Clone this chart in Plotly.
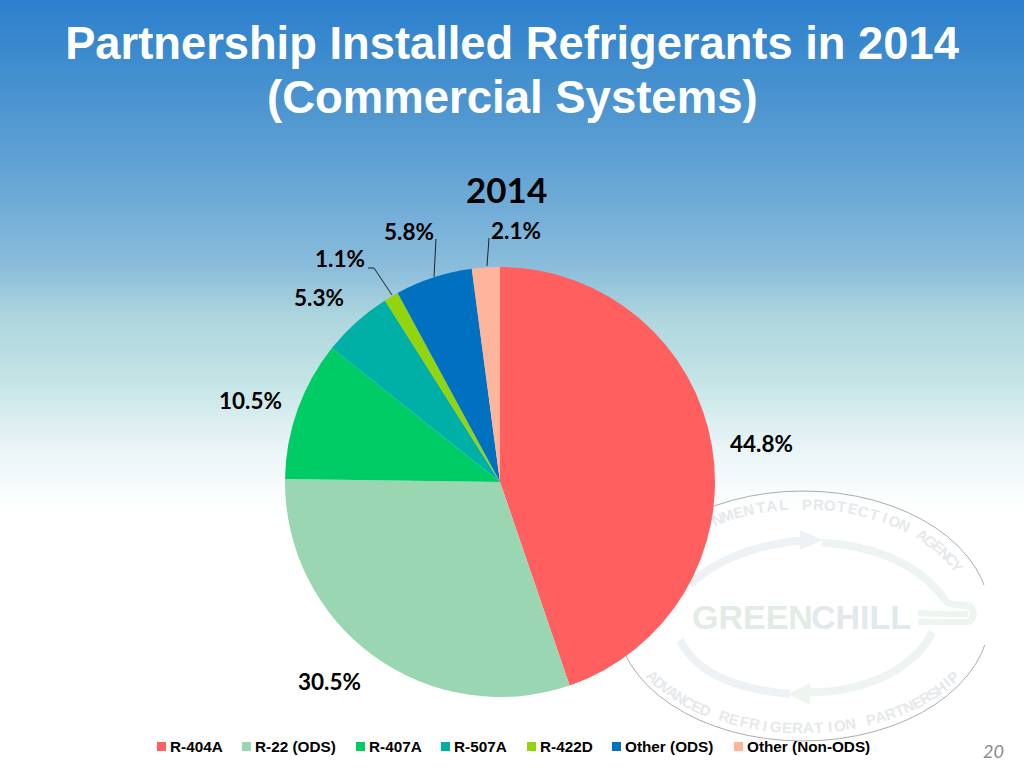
import math

import plotly.graph_objects as go

categories = ["R-404A", "R-22 (ODS)", "R-407A", "R-507A", "R-422D", "Other (ODS)", "Other (Non-ODS)"]
shares = [44.8, 30.5, 10.5, 5.3, 1.1, 5.8, 2.1]
colors = ["#FF5F5F", "#9BD6B2", "#00CC66", "#00AFA5", "#92D50F", "#0070C0", "#FFB59B"]

W, H = 1024, 768
LABEL_FONT = "Lato"
SANS = "Liberation Sans"

# where each share label sits, same order as categories
label_spots = [(761, 443), (329, 681), (250, 400), (319, 297), (340, 259), (409, 231), (516, 230)]
# left edge of each legend swatch
legend_spots = [157, 242, 356, 441, 527, 612, 734]

# background stops: pixel row, rgb
bg_stops = [
    (0, (44, 128, 205)),
    (100, (75, 148, 208)),
    (200, (110, 170, 215)),
    (270, (140, 190, 220)),
    (320, (175, 215, 222)),
    (380, (195, 228, 230)),
    (440, (230, 243, 245)),
    (500, (252, 254, 254)),
    (520, (255, 255, 255)),
]


def px(x):
    return x / W


def py(y):
    return 1 - y / H


def bg_color(y):
    for (y0, c0), (y1, c1) in zip(bg_stops, bg_stops[1:]):
        if y <= y1:
            t = (y - y0) / (y1 - y0)
            return "rgb(%d,%d,%d)" % tuple(round(a + (b - a) * t) for a, b in zip(c0, c1))
    return "white"


def paper_rect(x0, x1, y0, y1, fill, layer="below"):
    return dict(type="rect", xref="paper", yref="paper", layer=layer, x0=px(x0), x1=px(x1),
                y0=py(y1), y1=py(y0), fillcolor=fill, line_width=0)


def poly_path(pts, close=False):
    d = "M" + "L".join("%.5f,%.5f" % (px(x), py(y)) for x, y in pts)
    return d + "Z" if close else d


def curve(p0, c1, c2, p1, n=24):
    pts = []
    for i in range(n + 1):
        t = i / n
        u = 1 - t
        x = u**3 * p0[0] + 3 * u * u * t * c1[0] + 3 * u * t * t * c2[0] + t**3 * p1[0]
        y = u**3 * p0[1] + 3 * u * u * t * c1[1] + 3 * u * t * t * c2[1] + t**3 * p1[1]
        pts.append((x, y))
    return pts


def pipe(pts, color, width):
    return dict(type="path", xref="paper", yref="paper", layer="below", path=poly_path(pts),
                line=dict(color=color, width=width))


shapes = []
for y in range(0, 524, 4):
    shapes.append(paper_rect(0, W, y, y + 5, bg_color(y + 2)))

# watermark logo
shapes.append(dict(type="circle", xref="paper", yref="paper", layer="below",
                   x0=px(616), x1=px(990), y0=py(741), y1=py(491),
                   line=dict(color="#a9adb0", width=1)))
shapes.append(paper_rect(982, 1000, 585, 645, "white"))

PIPE_BLUE = "#eef2f5"
PIPE_GREEN = "#eef5f0"
shapes += [
    pipe(curve((690, 585), (720, 555), (770, 541), (815, 540)), PIPE_BLUE, 8),
    pipe(curve((822, 543), (880, 545), (925, 570), (945, 600)), PIPE_GREEN, 8),
    pipe(curve((945, 600), (950, 606), (960, 604), (968, 606)), PIPE_GREEN, 7),
    pipe(curve((968, 606), (975, 608), (975, 620), (968, 622)), PIPE_GREEN, 7),
    pipe(curve((918, 613), (935, 614), (955, 614), (968, 614)), PIPE_GREEN, 6),
    pipe(curve((918, 622), (935, 622), (955, 622), (968, 622)), PIPE_GREEN, 6),
    pipe(curve((680, 640), (700, 680), (750, 690), (790, 694)), PIPE_BLUE, 8),
    pipe(curve((800, 692), (860, 695), (915, 670), (932, 632)), PIPE_GREEN, 8),
]
for tip, back, fill in [((823, 540), (800, 530), PIPE_BLUE), ((788, 694), (810, 683), PIPE_GREEN)]:
    other_y = 2 * tip[1] - back[1]
    shapes.append(dict(type="path", xref="paper", yref="paper", layer="below", line_width=0, fillcolor=fill,
                       path=poly_path([tip, back, (back[0], other_y)], close=True)))

# leader lines for the small slices
for pts in [[(487, 266), (489, 238)], [(434, 277), (436, 239)], [(392, 295), (374, 268), (368, 268)]]:
    shapes.append(dict(type="path", xref="paper", yref="paper", layer="above", path=poly_path(pts),
                       line=dict(color="#222222", width=1)))

annotations = []


def note(text, x, y, size, family, color="black", xanchor="center", textangle=0):
    annotations.append(dict(text=text, x=px(x), y=py(y), xref="paper", yref="paper", showarrow=False,
                            xanchor=xanchor, yanchor="middle", textangle=textangle,
                            borderpad=0, font=dict(size=size, family=family, color=color)))


for share, (lx, ly) in zip(shares, label_spots):
    note("<b>%.1f%%</b>" % share, lx, ly, 22.5, LABEL_FONT)
note("<b>2014</b>", 506, 189, 35, LABEL_FONT)
note("<i>20</i>", 993, 751, 18, LABEL_FONT, color="#8a8a8a")
note("<b>(Commercial Systems)</b>", 512, 97, 45.5, SANS, color="white")

# legend row
for name, color, lx in zip(categories, colors, legend_spots):
    shapes.append(paper_rect(lx, lx + 9, 742, 751, color, layer="above"))
    note("<b>%s</b>" % name, lx + 12, 746, 15.3, SANS, xanchor="left")

# logo lettering, one letter at a time along the ellipse
LOGO_TEXT = "#e6e9eb"

for i, ch in enumerate("NMENTAL PROTECTION AGENCY"):
    a = math.radians(-30 + i * 3.9)
    x = 803 + 172 * math.sin(a)
    y = 616 - 112 * math.cos(a)
    tilt = math.degrees(math.atan2(112 * math.sin(a), 172 * math.cos(a)))
    note("<b>%s</b>" % ch, x, y, 15, SANS, color=LOGO_TEXT, textangle=tilt)

for i, ch in enumerate("ADVANCED REFRIGERATION PARTNERSHIP"):
    a = math.radians(-57 + i * 3.45)
    x = 803 + 179 * math.sin(a)
    y = 616 + 112 * math.cos(a)
    tilt = -math.degrees(math.atan2(112 * math.sin(a), 179 * math.cos(a)))
    note("<b>%s</b>" % ch, x, y, 15, SANS, color=LOGO_TEXT, textangle=tilt)

note("<b>GREEN</b>", 752, 617, 34, SANS, color="#e2ece5")
note("<b>CHILL</b>", 861, 617, 34, SANS, color="#e2e9ed")

fig = go.Figure(
    go.Pie(
        labels=categories,
        values=shares,
        sort=False,
        direction="clockwise",
        rotation=0,
        marker=dict(colors=colors, line=dict(width=0)),
        textinfo="none",
        hoverinfo="label+percent",
        showlegend=False,
        domain=dict(x=[px(285), px(715)], y=[py(697), py(267)]),
    )
)

fig.update_layout(
    width=W,
    height=H,
    margin=dict(l=0, r=0, t=0, b=0),
    paper_bgcolor="white",
    plot_bgcolor="rgba(0,0,0,0)",
    title=dict(
        text="<b>Partnership Installed Refrigerants in 2014</b>",
        x=0.5,
        xanchor="center",
        y=py(43),
        yanchor="middle",
        font=dict(family=SANS, size=45.3, color="white"),
    ),
    shapes=shapes,
    annotations=annotations,
)

fig.write_html("out.html", config={"displayModeBar": False}, post_script="document.body.style.margin = '0';")
